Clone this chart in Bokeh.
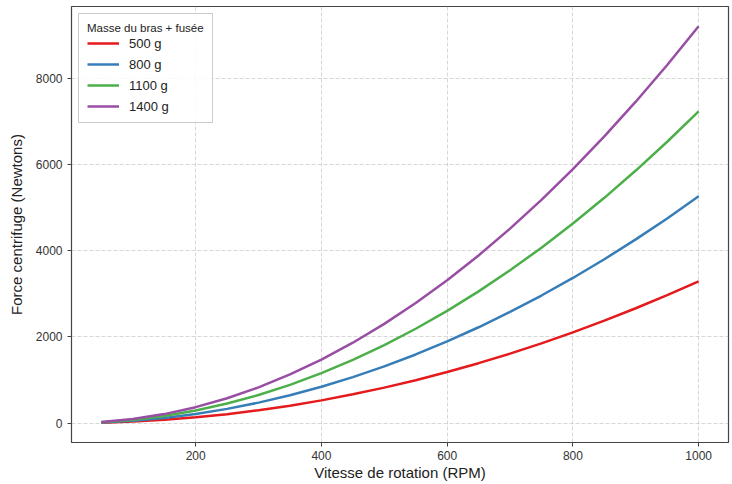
from bokeh.plotting import figure
from bokeh.models import Range1d, FixedTicker, Legend, LegendItem
from bokeh.embed import file_html
from bokeh.resources import INLINE

rpm = [50, 100, 150, 200, 250, 300, 350, 400, 450, 500,
       550, 600, 650, 700, 750, 800, 850, 900, 950, 1000]
force_500 = [8.2, 32.9, 74.0, 131.6, 205.6, 296.1, 403.0, 526.4, 666.2, 822.5,
             995.2, 1184.4, 1390.0, 1612.1, 1850.6, 2105.5, 2377.0, 2664.8, 2969.1, 3289.9]
force_800 = [13.2, 52.6, 118.4, 210.6, 329.0, 473.7, 644.8, 842.2, 1065.9, 1316.0,
             1592.3, 1895.0, 2224.0, 2579.3, 2960.9, 3368.8, 3803.1, 4263.7, 4750.6, 5263.8]
force_1100 = [18.1, 72.4, 162.8, 289.5, 452.4, 651.4, 886.6, 1158.0, 1465.6, 1809.4,
              2189.4, 2605.6, 3057.9, 3546.5, 4071.2, 4632.1, 5229.2, 5862.5, 6532.0, 7237.7]
force_1400 = [23.0, 92.1, 207.3, 368.5, 575.7, 829.0, 1128.4, 1473.9, 1865.3, 2302.9,
              2786.5, 3316.2, 3891.9, 4513.7, 5181.5, 5895.4, 6655.4, 7461.4, 8313.5, 9211.6]
series_labels = ["500 g", "800 g", "1100 g", "1400 g"]
series_values = [force_500, force_800, force_1100, force_1400]
colors = ["#e41a1c", "#377eb8", "#4daf4a", "#984ea3"]
x_ticks = [200, 400, 600, 800, 1000]
y_ticks = [0, 2000, 4000, 6000, 8000]

FONT = "Liberation Sans"

p = figure(width=732, height=484, output_backend="svg", toolbar_location=None,
           x_range=Range1d(2.5, 1047.5), y_range=Range1d(-452, 9672),
           min_border_left=71, min_border_right=4, min_border_top=6, min_border_bottom=42)
p.background_fill_color = "white"
p.border_fill_color = "white"
p.outline_line_color = "#444444"
p.outline_line_width = 1.2

for ax in (p.xaxis, p.yaxis):
    ax.axis_line_color = None
    ax.major_tick_out = 4
    ax.major_tick_in = 0
    ax.major_tick_line_color = "#444444"
    ax.minor_tick_line_color = None
    ax.major_label_text_font = FONT
    ax.major_label_text_font_size = "12px"
    ax.major_label_text_color = "#333333"
    ax.axis_label_text_font = FONT
    ax.axis_label_text_font_size = "15px"
    ax.axis_label_text_font_style = "normal"
    ax.axis_label_text_color = "#222222"

p.xaxis.ticker = FixedTicker(ticks=x_ticks)
p.yaxis.ticker = FixedTicker(ticks=y_ticks)
p.xaxis.axis_label = "Vitesse de rotation (RPM)"
p.yaxis.axis_label = "Force centrifuge (Newtons)"
p.xaxis.axis_label_standoff = 1
p.yaxis.axis_label_standoff = 8
p.xaxis.major_label_standoff = 4
p.yaxis.major_label_standoff = 5

p.grid.grid_line_color = "#b8b8b8"
p.grid.grid_line_dash = "4 2"
p.grid.grid_line_alpha = 0.7
p.grid.grid_line_width = 0.8

items = []
for lab, vals, c in zip(series_labels, series_values, colors):
    r = p.line(rpm, vals, line_color=c, line_width=2.5)
    items.append(LegendItem(label=lab, renderers=[r]))

legend = Legend(items=items, location="top_left", title="Masse du bras + fusée")
legend.title_text_font = FONT
legend.title_text_font_size = "11.5px"
legend.title_text_font_style = "normal"
legend.title_text_color = "#222222"
legend.title_standoff = 1
legend.label_text_font = FONT
legend.label_text_font_size = "13px"
legend.label_text_color = "#222222"
legend.glyph_width = 32
legend.glyph_height = 16
legend.label_height = 16
legend.label_standoff = 10
legend.spacing = 5
legend.padding = 8
legend.margin = 7
legend.border_line_color = "#cccccc"
legend.border_line_alpha = 1.0
legend.background_fill_alpha = 0.85
p.add_layout(legend)

open("out.html", "w").write(file_html(p, INLINE))
